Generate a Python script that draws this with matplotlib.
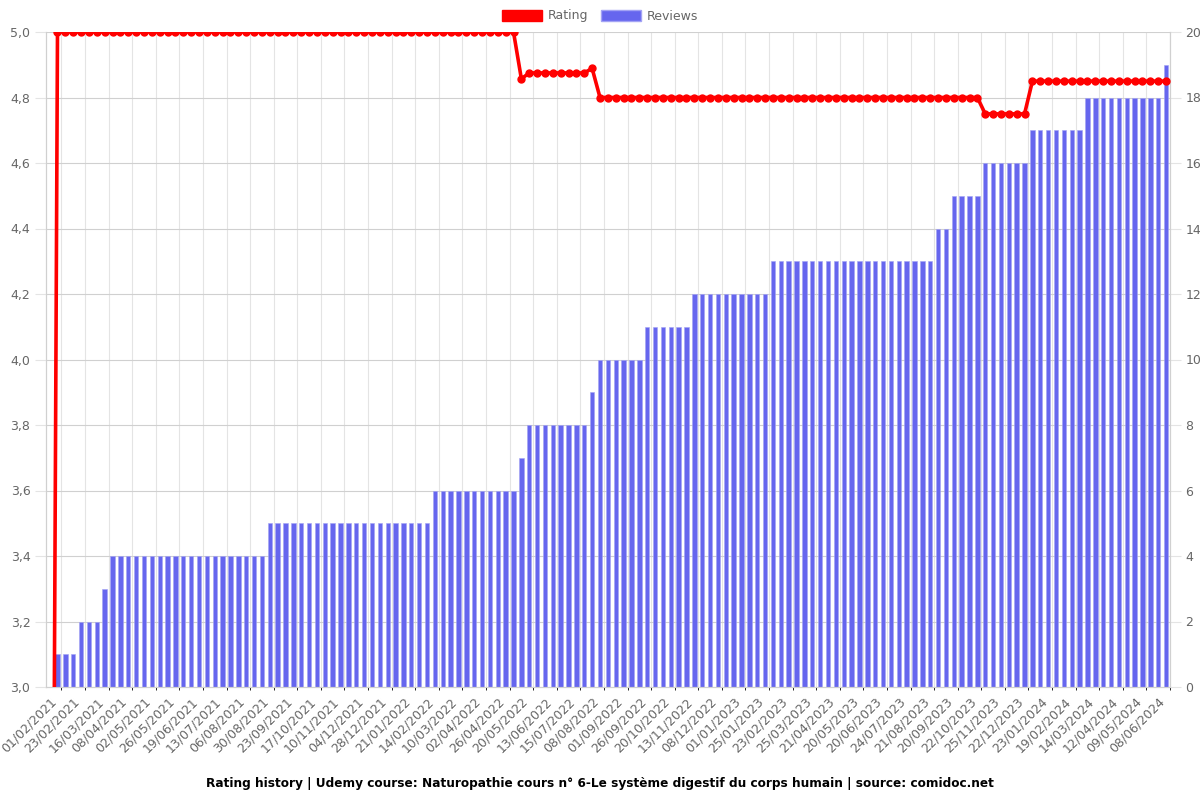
import numpy as np
import matplotlib
matplotlib.use("Agg")
import matplotlib.pyplot as plt
from matplotlib.patches import Patch
from matplotlib.ticker import FixedLocator, FuncFormatter

# one label every third snapshot (autoskipped category axis)
tick_labels = [
    "01/02/2021", "23/02/2021", "16/03/2021", "08/04/2021", "02/05/2021",
    "26/05/2021", "19/06/2021", "13/07/2021", "06/08/2021", "30/08/2021",
    "23/09/2021", "17/10/2021", "10/11/2021", "04/12/2021", "28/12/2021",
    "21/01/2022", "14/02/2022", "10/03/2022", "02/04/2022", "26/04/2022",
    "20/05/2022", "13/06/2022", "15/07/2022", "08/08/2022", "01/09/2022",
    "26/09/2022", "20/10/2022", "13/11/2022", "08/12/2022", "01/01/2023",
    "25/01/2023", "23/02/2023", "25/03/2023", "21/04/2023", "20/05/2023",
    "20/06/2023", "24/07/2023", "21/08/2023", "20/09/2023", "22/10/2023",
    "25/11/2023", "22/12/2023", "23/01/2024", "19/02/2024", "14/03/2024",
    "12/04/2024", "09/05/2024", "08/06/2024",
]

reviews = [
    0, 1, 1, 1, 2, 2, 2, 3, 4, 4,
    4, 4, 4, 4, 4, 4, 4, 4, 4, 4,
    4, 4, 4, 4, 4, 4, 4, 4, 5, 5,
    5, 5, 5, 5, 5, 5, 5, 5, 5, 5,
    5, 5, 5, 5, 5, 5, 5, 5, 5, 6,
    6, 6, 6, 6, 6, 6, 6, 6, 6, 6,
    7, 8, 8, 8, 8, 8, 8, 8, 8, 9,
    10, 10, 10, 10, 10, 10, 11, 11, 11, 11,
    11, 11, 12, 12, 12, 12, 12, 12, 12, 12,
    12, 12, 13, 13, 13, 13, 13, 13, 13, 13,
    13, 13, 13, 13, 13, 13, 13, 13, 13, 13,
    13, 13, 13, 14, 14, 15, 15, 15, 15, 16,
    16, 16, 16, 16, 16, 17, 17, 17, 17, 17,
    17, 17, 18, 18, 18, 18, 18, 18, 18, 18,
    18, 18, 19,
]

rating = [
    0.0, 5.0, 5.0, 5.0, 5.0, 5.0, 5.0, 5.0, 5.0, 5.0,
    5.0, 5.0, 5.0, 5.0, 5.0, 5.0, 5.0, 5.0, 5.0, 5.0,
    5.0, 5.0, 5.0, 5.0, 5.0, 5.0, 5.0, 5.0, 5.0, 5.0,
    5.0, 5.0, 5.0, 5.0, 5.0, 5.0, 5.0, 5.0, 5.0, 5.0,
    5.0, 5.0, 5.0, 5.0, 5.0, 5.0, 5.0, 5.0, 5.0, 5.0,
    5.0, 5.0, 5.0, 5.0, 5.0, 5.0, 5.0, 5.0, 5.0, 5.0,
    4.857, 4.875, 4.875, 4.875, 4.875, 4.875, 4.875, 4.875, 4.875, 4.889,
    4.8, 4.8, 4.8, 4.8, 4.8, 4.8, 4.8, 4.8, 4.8, 4.8,
    4.8, 4.8, 4.8, 4.8, 4.8, 4.8, 4.8, 4.8, 4.8, 4.8,
    4.8, 4.8, 4.8, 4.8, 4.8, 4.8, 4.8, 4.8, 4.8, 4.8,
    4.8, 4.8, 4.8, 4.8, 4.8, 4.8, 4.8, 4.8, 4.8, 4.8,
    4.8, 4.8, 4.8, 4.8, 4.8, 4.8, 4.8, 4.8, 4.8, 4.75,
    4.75, 4.75, 4.75, 4.75, 4.75, 4.85, 4.85, 4.85, 4.85, 4.85,
    4.85, 4.85, 4.85, 4.85, 4.85, 4.85, 4.85, 4.85, 4.85, 4.85,
    4.85, 4.85, 4.85,
]

title = ("Rating history | Udemy course: Naturopathie cours n° 6-Le système "
         "digestif du corps humain | source: comidoc.net")

RED = "#ff0000"
BLUE = "#6666ee"
BLUE_EDGE = "#a3a3f4"
GRID = "#e4e4e4"
TXT = "#666666"

plt.rcParams["font.family"] = ["DejaVu Sans"]

n = len(reviews)
x = np.arange(n)
step = 3

fig = plt.figure(figsize=(12, 8), dpi=100)
ax = fig.add_axes([45.7 / 1200, 1 - 687 / 800, (1170 - 45.7) / 1200, (687 - 32) / 800])
axb = ax.twinx()

# bars on the twin axis, drawn below the rating line
axb.bar(x, reviews, width=0.56, color=BLUE, edgecolor=BLUE_EDGE, linewidth=0.4, zorder=2)
axb.set_ylim(0, 20)
axb.set_yticks(np.arange(0, 21, 2))
axb.tick_params(axis="y", colors=TXT, labelsize=9, length=8, width=0.8, color=GRID, pad=3)

ax.set_zorder(axb.get_zorder() + 1)
ax.patch.set_visible(False)
ax.plot(x, rating, color=RED, lw=2.6, marker="o", ms=5, zorder=3, clip_on=True)
ax.set_ylim(3.0, 5.0)
ax.set_xlim(-0.5, n - 0.5)
ax.set_yticks(np.arange(3.0, 5.01, 0.2))
ax.yaxis.set_major_formatter(FuncFormatter(lambda v, p: f"{v:.1f}".replace(".", ",")))
ax.tick_params(axis="y", colors=TXT, labelsize=9, length=8, width=0.8, color=GRID, pad=3)

# category labels, gridlines sit between the shown labels
ticks = x[::step][:len(tick_labels)]
ax.set_xticks(ticks)
ax.set_xticklabels(tick_labels, rotation=45, ha="right", rotation_mode="anchor",
                   color=TXT, fontsize=9)
ax.tick_params(axis="x", length=0, pad=6)
grid_x = list(ticks[1:] - 1.5) + [n - 0.5]
axb.xaxis.set_minor_locator(FixedLocator(grid_x))
axb.tick_params(axis="x", which="minor", length=8, width=0.8, color=GRID)
axb.tick_params(axis="x", which="major", length=0)
for gx in grid_x:
    axb.axvline(gx, color=GRID, lw=0.8, zorder=0)
for gy in np.arange(2, 21, 2):
    axb.axhline(gy, color="#d0d0d0", lw=0.8, zorder=0)

for a in (ax, axb):
    a.spines["top"].set_visible(False)
    for s in ("left", "right", "bottom"):
        a.spines[s].set_color("#d0d0d0")
        a.spines[s].set_linewidth(0.8)

handles = [Patch(facecolor=RED, edgecolor=RED, label="Rating"),
           Patch(facecolor=BLUE, edgecolor=BLUE_EDGE, label="Reviews")]
fig.legend(handles=handles, loc="center", bbox_to_anchor=(0.5, 1 - 16 / 800), ncol=2,
           frameon=False, fontsize=9, handlelength=3.2, handleheight=1.0,
           columnspacing=1.0, handletextpad=0.5, labelcolor=TXT)

fig.text(0.5, 1 - 783 / 800, title, ha="center", va="center", fontsize=8.7,
         fontweight="bold", color="#000000")

fig.savefig("out.png", dpi=100)
